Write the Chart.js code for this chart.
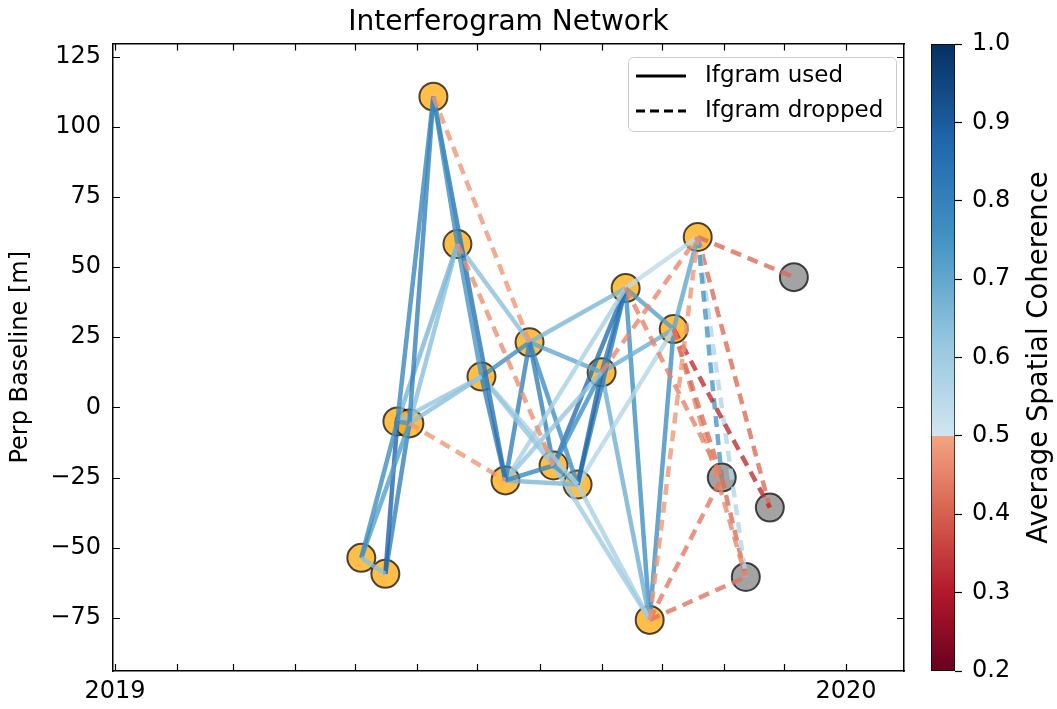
<!DOCTYPE html>
<html>
<head>
<meta charset="utf-8">
<title>Interferogram Network</title>
<script src="https://cdn.jsdelivr.net/npm/chart.js@4.4.1/dist/chart.umd.min.js"></script>
<style>
  html, body { margin: 0; padding: 0; background: #fff; }
  #wrap { position: relative; width: 1057px; height: 709px; }
  #net { position: absolute; left: 0; top: 0; }
  #cbar { position: absolute; left: 900px; top: 0; }
</style>
</head>
<body>
<div id="wrap">
  <canvas id="net" width="920" height="709"></canvas>
  <canvas id="cbar" width="157" height="709"></canvas>
</div>
<script>
// --- acquisitions ---
const dateList = ['20190504', '20190516', '20190522', '20190528', '20190609', '20190621',
  '20190703', '20190715', '20190727', '20190808', '20190820', '20190901', '20190913',
  '20190925', '20191007', '20191019', '20191031', '20191112', '20191124', '20191206'];
const pbaseList = [-53.6, -59.3, -5.0, -5.7, 110.7, 58.2, 11.0, -26.0, 23.2, -20.7, -27.5,
  12.5, 42.5, -75.7, 27.9, 60.7, -25.0, -60.4, -35.7, 46.4];
const dateDropped = ['20191031', '20191112', '20191124', '20191206'];

// --- interferograms: [reference idx, secondary idx] and average coherence ---
const ifgUsedPairs = [[0, 1], [0, 2], [0, 3], [1, 2], [1, 3], [2, 3], [2, 4], [3, 4], [2, 5], [3, 5],
  [2, 6], [3, 6], [4, 5], [4, 7], [5, 6], [5, 8], [6, 7], [6, 8], [6, 9], [6, 10],
  [7, 8], [7, 9], [7, 10], [7, 11], [7, 12], [8, 9], [8, 10], [8, 11], [8, 12],
  [9, 10], [9, 11], [9, 12], [9, 13], [10, 11], [10, 12], [10, 13], [10, 14],
  [11, 12], [11, 13], [11, 14], [12, 13], [12, 14], [12, 15], [13, 14], [14, 15]];
const ifgUsedCoh = [0.64, 0.76, 0.72, 0.88, 0.80, 0.74, 0.78, 0.80, 0.66, 0.64,
  0.62, 0.64, 0.76, 0.84, 0.74, 0.64, 0.80, 0.76, 0.62, 0.58,
  0.80, 0.78, 0.66, 0.62, 0.58, 0.80, 0.76, 0.70, 0.66,
  0.74, 0.76, 0.85, 0.60, 0.87, 0.82, 0.58, 0.56,
  0.82, 0.68, 0.68, 0.76, 0.72, 0.54, 0.76, 0.70];
const ifgDropPairs = [[3, 7], [4, 8], [5, 9], [11, 15], [12, 16], [13, 15], [13, 16], [13, 17],
  [14, 16], [14, 17], [14, 18], [15, 16], [15, 17], [15, 18], [15, 19], [16, 17]];
const ifgDropCoh = [0.48, 0.48, 0.47, 0.46, 0.45, 0.48, 0.44, 0.43,
  0.42, 0.46, 0.33, 0.74, 0.56, 0.42, 0.42, 0.42];

// --- axes ---
const yearTicks = ['20190101', '20200101'];
const yearLabels = ['2019', '2020'];
const cbarTicks = [0.2, 0.3, 0.4, 0.5, 0.6, 0.7, 0.8, 0.9, 1.0];

const FONT = 'DejaVu Sans';
const day0 = Date.UTC(2019, 0, 1);
function dayOf(s) {
  return (Date.UTC(+s.slice(0, 4), +s.slice(4, 6) - 1, +s.slice(6, 8)) - day0) / 86400000;
}
const xMin = dayOf('20181231');
const xMax = dayOf('20200130');
const xs = dateList.map(dayOf);
const yearDays = yearTicks.map(dayOf);

// monthly minor ticks
const monthDays = [];
for (let yr = 2019; yr <= 2020; yr++) {
  for (let m = 0; m < 12; m++) {
    const d = (Date.UTC(yr, m, 1) - day0) / 86400000;
    if (d >= xMin && d <= xMax) monthDays.push(d);
  }
}

// RdBu, split at 0.5 like the colorbar
const rdbu = ['#67001f', '#b2182b', '#d6604d', '#f4a582', '#fddbc7', '#f7f7f7',
  '#d1e5f0', '#92c5de', '#4393c3', '#2166ac', '#053061'];
const hex = h => [1, 3, 5].map(i => parseInt(h.slice(i, i + 2), 16));
function rdbuAt(p) {
  const i = Math.min(9, Math.floor(p * 10));
  const t = p * 10 - i;
  const a = hex(rdbu[i]), b = hex(rdbu[i + 1]);
  return a.map((v, k) => Math.round(v + (b[k] - v) * t));
}
function cohRGB(c, upper) {
  c = Math.max(0.2, Math.min(1, c));
  const p = (c < 0.5 && !upper) ? (c - 0.2) : 0.6 + (c - 0.5) * 0.8;
  return rdbuAt(p);
}
const rgba = (rgb, a) => `rgba(${rgb[0]},${rgb[1]},${rgb[2]},${a})`;

function edgeSet(pair, coh, dropped) {
  return {
    data: pair.map(i => ({ x: xs[i], y: pbaseList[i] })),
    showLine: true,
    borderColor: rgba(cohRGB(coh), 0.8),
    borderWidth: 4.5,
    borderDash: dropped ? [11, 7] : [],
    borderCapStyle: 'butt',
    pointRadius: 0,
    order: 0
  };
}

const keptIdx = dateList.map((d, i) => i).filter(i => !dateDropped.includes(dateList[i]));
const dropIdx = dateList.map((d, i) => i).filter(i => dateDropped.includes(dateList[i]));

const datasets = [
  ...ifgDropPairs.map((p, i) => edgeSet(p, ifgDropCoh[i], true)),
  ...ifgUsedPairs.map((p, i) => edgeSet(p, ifgUsedCoh[i], false)),
  {
    data: keptIdx.map(i => ({ x: xs[i], y: pbaseList[i] })),
    pointRadius: 14, pointBorderWidth: 2,
    pointBackgroundColor: 'rgba(255,165,0,0.72)', pointBorderColor: 'rgba(0,0,0,0.7)',
    order: 1
  },
  {
    data: dropIdx.map(i => ({ x: xs[i], y: pbaseList[i] })),
    pointRadius: 14, pointBorderWidth: 2,
    pointBackgroundColor: 'rgba(128,128,128,0.72)', pointBorderColor: 'rgba(0,0,0,0.7)',
    order: 1
  }
];

// inward ticks on all four sides
const inTicks = {
  id: 'inTicks',
  afterDraw(chart) {
    const { ctx, chartArea: a, scales } = chart;
    ctx.save();
    ctx.strokeStyle = '#000';
    ctx.lineWidth = 1.2;
    ctx.beginPath();
    scales.x.ticks.forEach(t => {
      const px = Math.round(scales.x.getPixelForValue(t.value)) + 0.5;
      ctx.moveTo(px, a.bottom); ctx.lineTo(px, a.bottom - 7);
      ctx.moveTo(px, a.top); ctx.lineTo(px, a.top + 7);
    });
    scales.y.ticks.forEach(t => {
      const py = Math.round(scales.y.getPixelForValue(t.value)) + 0.5;
      ctx.moveTo(a.left, py); ctx.lineTo(a.left + 7, py);
      ctx.moveTo(a.right, py); ctx.lineTo(a.right - 7, py);
    });
    ctx.stroke();
    ctx.restore();
  }
};

// legend box in the upper right of the axes
const lineLegend = {
  id: 'lineLegend',
  afterDraw(chart) {
    const { ctx } = chart;
    ctx.save();
    ctx.beginPath();
    ctx.roundRect(628.5, 57.5, 268, 74, 5);
    ctx.fillStyle = 'rgba(255,255,255,0.8)';
    ctx.fill();
    ctx.strokeStyle = '#cccccc';
    ctx.lineWidth = 1;
    ctx.stroke();
    ctx.strokeStyle = '#000';
    ctx.lineWidth = 3;
    ctx.beginPath(); ctx.moveTo(636, 76); ctx.lineTo(686, 76); ctx.stroke();
    ctx.setLineDash([9, 5]);
    ctx.beginPath(); ctx.moveTo(636, 111); ctx.lineTo(686, 111); ctx.stroke();
    ctx.setLineDash([]);
    ctx.fillStyle = '#000';
    ctx.font = `23px "${FONT}"`;
    ctx.textBaseline = 'middle';
    ctx.fillText('Ifgram used', 705, 76);
    ctx.fillText('Ifgram dropped', 705, 111);
    ctx.restore();
  }
};

new Chart(document.getElementById('net'), {
  type: 'scatter',
  data: { datasets },
  plugins: [inTicks, lineLegend],
  options: {
    responsive: false,
    animation: false,
    events: [],
    layout: { padding: { left: 0, right: 13, top: 0, bottom: 0 } },
    plugins: {
      legend: { display: false },
      tooltip: { enabled: false },
      title: {
        display: true, text: 'Interferogram Network', fullSize: false,
        color: '#000', font: { family: FONT, size: 28, weight: 'normal' },
        padding: { top: 6, bottom: 4 }
      }
    },
    scales: {
      x: {
        type: 'linear', position: 'bottom', min: xMin, max: xMax,
        border: { color: '#000', width: 1.5 },
        grid: { drawOnChartArea: false, drawTicks: false },
        afterBuildTicks: s => { s.ticks = monthDays.map(v => ({ value: v })); },
        ticks: {
          autoSkip: false, maxRotation: 0, padding: 6, color: '#000',
          font: { family: FONT, size: 24 },
          callback: v => {
            const i = yearDays.indexOf(v);
            return i >= 0 ? yearLabels[i] : '';
          }
        },
        afterFit: s => { s.height = 38; }
      },
      x2: {
        type: 'linear', position: 'top', min: xMin, max: xMax,
        border: { color: '#000', width: 1.5 },
        grid: { drawOnChartArea: false, drawTicks: false },
        ticks: { display: false },
        afterFit: s => { s.height = 0; }
      },
      y: {
        type: 'linear', position: 'left', min: -93.9, max: 129.6,
        border: { color: '#000', width: 1.5 },
        grid: { drawOnChartArea: false, drawTicks: false },
        ticks: {
          stepSize: 25, includeBounds: false, padding: 12, color: '#000',
          font: { family: FONT, size: 24 },
          callback: v => String(v).replace('-', '\u2212')
        },
        title: {
          display: true, text: 'Perp Baseline [m]', color: '#000',
          font: { family: FONT, size: 24 }, padding: { top: 6, bottom: 0 }
        },
        afterFit: s => { s.width = 113; }
      },
      y2: {
        type: 'linear', position: 'right', min: -93.9, max: 129.6,
        border: { color: '#000', width: 1.5 },
        grid: { drawOnChartArea: false, drawTicks: false },
        ticks: { display: false },
        afterFit: s => { s.width = 0; }
      }
    }
  }
});

// --- colorbar ---
function cbarFill(ctx) {
  const chart = ctx.chart;
  const s = chart.scales.y;
  if (!s || !chart.chartArea) return '#888';
  const y0 = s.getPixelForValue(0.2), y1 = s.getPixelForValue(1.0);
  const g = chart.ctx.createLinearGradient(0, y0, 0, y1);
  for (let k = 0; k <= 80; k++) {
    const v = 0.2 + k * 0.01;
    const off = k / 80;
    if (k === 30) {
      g.addColorStop(off, rgba(cohRGB(0.4999), 1));
      g.addColorStop(off, rgba(cohRGB(0.5, true), 1));
    } else {
      g.addColorStop(off, rgba(cohRGB(v), 1));
    }
  }
  return g;
}

const cbarLabel = {
  id: 'cbarLabel',
  afterDraw(chart) {
    const { ctx, chartArea: a } = chart;
    ctx.save();
    ctx.translate(140, (a.top + a.bottom) / 2);
    ctx.rotate(-Math.PI / 2);
    ctx.fillStyle = '#000';
    ctx.font = `27.5px "${FONT}"`;
    ctx.textAlign = 'center';
    ctx.textBaseline = 'middle';
    ctx.fillText('Average Spatial Coherence', 0, 0);
    ctx.restore();
  }
};

new Chart(document.getElementById('cbar'), {
  type: 'bar',
  data: {
    labels: [''],
    datasets: [{
      data: [[0.2, 1.0]],
      backgroundColor: cbarFill,
      borderColor: '#000', borderWidth: 1, borderSkipped: false,
      barPercentage: 1, categoryPercentage: 1
    }]
  },
  plugins: [cbarLabel],
  options: {
    responsive: false,
    animation: false,
    events: [],
    layout: { padding: { left: 31, top: 44, bottom: 38, right: 0 } },
    plugins: { legend: { display: false }, tooltip: { enabled: false } },
    scales: {
      x: { display: false },
      y: {
        position: 'right', min: 0.2, max: 1.0,
        border: { display: false },
        grid: { drawOnChartArea: false, tickLength: 7, color: '#000', tickWidth: 1.2 },
        afterBuildTicks: s => { s.ticks = cbarTicks.map(v => ({ value: v })); },
        ticks: {
          padding: 10, color: '#000', font: { family: FONT, size: 24 },
          callback: v => v.toFixed(1)
        },
        afterFit: s => { s.width = 102; }
      }
    }
  }
});
</script>
</body>
</html>
